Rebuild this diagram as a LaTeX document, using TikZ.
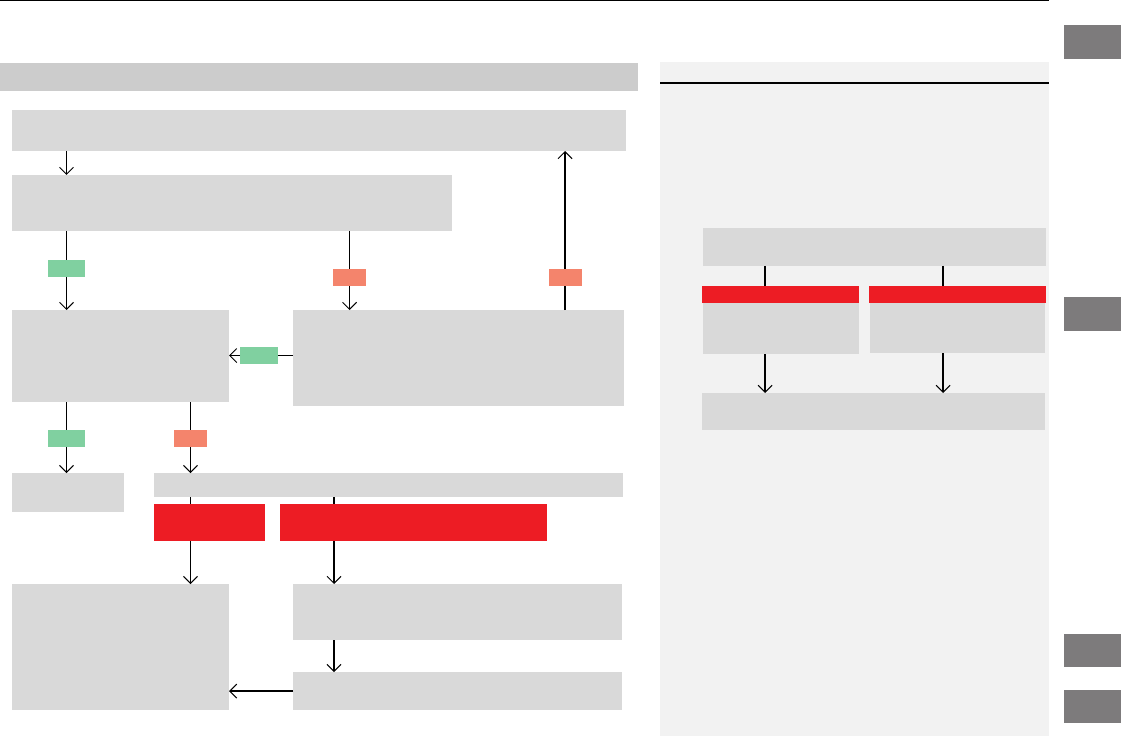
\documentclass[tikz,border=0pt]{standalone}
\usetikzlibrary{arrows.meta,positioning}

\definecolor{boxgray}{HTML}{D9D9D9}
\definecolor{hdrgray}{HTML}{CCCCCC}
\definecolor{panelgray}{HTML}{F2F2F2}
\definecolor{tabgray}{HTML}{7D7B7C}
\definecolor{yesgreen}{HTML}{80D0A0}
\definecolor{nosalmon}{HTML}{F4846C}
\definecolor{warnred}{HTML}{ED1C24}

\begin{document}
\begin{tikzpicture}[
    x=0.2mm, y=-0.2mm,
    sz/.style 2 args={minimum width=#1*0.2mm, minimum height=#2*0.2mm},
    blk/.style={rectangle, inner sep=0pt, outer sep=0pt, draw=none},
    box/.style={blk, fill=boxgray},
    hdr/.style={blk, fill=hdrgray},
    warnbox/.style={blk, fill=warnred},
    yes/.style={blk, fill=yesgreen, sz={37}{17}},
    no/.style={blk, fill=nosalmon, sz={33}{17}},
    tab/.style={blk, fill=tabgray},
    arr/.style={-{Straight Barb[length=1.4mm, width=2.8mm]}, line width=0.6pt},
    ln/.style={line width=0.6pt}
]
\useasboundingbox (0,0) rectangle (1122,736);

% ---- Page frame ----
\draw[ln] (0,0.5) -- (1049,0.5);
\node[blk, fill=panelgray, sz={389}{674}] (panel) at (854.5,399) {};
\draw[ln] (panel.north west |- 0,83) -- (panel.north east |- 0,83);

% ---- Side tabs ----
\node[tab, sz={57}{34}] (tab1) at (1092.5,42) {};
\node[tab, sz={57}{34}] (tab2) at (1092.5,314) {};
\node[tab, sz={57}{33}] (tab3) at (1092.5,650.5) {};
\node[tab, sz={57}{33}] (tab4) at (1092.5,706.5) {};

% ---- Flow chart ----
\node[hdr, sz={638}{28}] (head) at (319,77) {};
\node[box, sz={614}{41}] (start) at (319,130.5) {};
\node[box, sz={440}{56}] (check) at (232,203) {};
\node[box, sz={217}{92}] (ok) at (120.5,356) {};
\node[box, sz={331}{96}] (retry) at (458.5,358) {};
\node[box, sz={112}{39}] (done) at (68,492.5) {};
\node[box, sz={469}{24}] (cause) at (388.5,485) {};
\node[warnbox, sz={111}{37}] (warn1) at (209.5,522.5) {};
\node[warnbox, sz={267}{37}] (warn2) at (413.5,522.5) {};
\node[box, sz={217}{126}] (dealer) at (120.5,647) {};
\node[box, sz={329}{56}] (reset) at (457.5,612) {};
\node[box, sz={329}{38}] (again) at (457.5,691) {};

% answer tags
\node[yes] (y1) at (66.5,268.5) {};
\node[no] (n1) at (349.5,277.5) {};
\node[no] (n2) at (565,277.5) {};
\node[blk, fill=yesgreen, sz={38}{17}] (y2) at (259,355.5) {};
\node[yes] (y3) at (66.5,438.5) {};
\node[no] (n3) at (190.5,438.5) {};
\coordinate (colR) at (334,0);

\draw[arr] (start.south -| y1) -- (check.north -| y1);
\draw[ln] (check.south -| y1) -- (y1.north);
\draw[arr] (y1.south) -- (ok.north -| y1);
\draw[ln] (check.south -| n1) -- (n1.north);
\draw[arr] (n1.south) -- (retry.north -| n1);
\draw[ln] (retry.north -| n2) -- (n2.south);
\draw[arr] (n2.north) -- (start.south -| n2);
\draw[ln] (retry.west |- y2) -- (y2.east);
\draw[arr] (y2.west) -- (ok.east |- y2);
\draw[ln] (ok.south -| y3) -- (y3.north);
\draw[arr] (y3.south) -- (done.north -| y3);
\draw[ln] (ok.south -| n3) -- (n3.north);
\draw[arr] (n3.south) -- (cause.north -| n3);
\draw[ln] (cause.south -| n3) -- (warn1.north -| n3);
\draw[arr] (warn1.south -| n3) -- (dealer.north -| n3);
\draw[ln] (cause.south -| colR) -- (warn2.north -| colR);
\draw[arr] (warn2.south -| colR) -- (reset.north -| colR);
\draw[arr] (reset.south -| colR) -- (again.north -| colR);
\draw[arr] (again.west) -- (dealer.east |- again.west);

% ---- Side panel chart ----
\node[box, sz={343}{38}] (p1) at (874.5,247) {};
\node[warnbox, sz={157}{17}] (redL) at (780.5,294.5) {};
\node[box, sz={156}{51}] (bodyL) at (781,328.5) {};
\node[warnbox, sz={177}{17}] (redR) at (957.5,294.5) {};
\node[box, sz={175}{50}] (bodyR) at (957.5,328) {};
\node[box, sz={343}{37}] (p4) at (873.5,411.5) {};
\coordinate (colA) at (765,0);
\coordinate (colB) at (943,0);

\draw[ln] (p1.south -| colA) -- (redL.north -| colA);
\draw[ln] (p1.south -| colB) -- (redR.north -| colB);
\draw[arr] (bodyL.south -| colA) -- (p4.north -| colA);
\draw[arr] (bodyR.south -| colB) -- (p4.north -| colB);

\end{tikzpicture}
\end{document}
